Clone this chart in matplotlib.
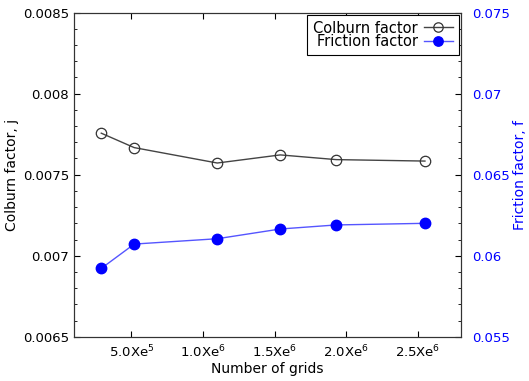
import matplotlib
matplotlib.use("Agg")
import matplotlib.pyplot as plt
from matplotlib.ticker import MultipleLocator, FixedLocator, FormatStrFormatter

# grid independence data
grids = [2.9e5, 5.2e5, 1.10e6, 1.54e6, 1.93e6, 2.55e6]
colburn = [0.007756, 0.007667, 0.007572, 0.007622, 0.007593, 0.007584]
friction = [0.05922, 0.06072, 0.06105, 0.06165, 0.0619, 0.0620]
xticks = [5e5, 1e6, 1.5e6, 2e6, 2.5e6]
xticklabels = [r"5.0Xe$^{5}$", r"1.0Xe$^{6}$", r"1.5Xe$^{6}$", r"2.0Xe$^{6}$", r"2.5Xe$^{6}$"]

plt.rcParams["font.family"] = ["DejaVu Sans"]
plt.rcParams["mathtext.fontset"] = "dejavusans"

fig = plt.figure(figsize=(5.29, 3.81), dpi=100)
ax = fig.add_axes([0.140, 0.116, 0.731, 0.851])
ax2 = ax.twinx()

l1, = ax.plot(grids, colburn, color="#444444", lw=1, marker="o", ms=7.5,
              mfc="none", mec="#333333", mew=0.9, label="Colburn factor")
l2, = ax2.plot(grids, friction, color="#5555ff", lw=1, marker="o", ms=7.5,
               mfc="blue", mec="blue", label="Friction factor")

ax.set_xlim(1e5, 2.8e6)
ax.set_ylim(0.0065, 0.0085)
ax2.set_ylim(0.055, 0.075)

ax.xaxis.set_major_locator(FixedLocator(xticks))
ax.set_xticklabels(xticklabels)
ax.yaxis.set_major_locator(MultipleLocator(0.0005))
ax.yaxis.set_minor_locator(MultipleLocator(0.0001))
ax2.yaxis.set_major_locator(MultipleLocator(0.005))
ax2.yaxis.set_minor_locator(MultipleLocator(0.001))
ax.yaxis.set_major_formatter(FormatStrFormatter("%g"))
ax2.yaxis.set_major_formatter(FormatStrFormatter("%g"))

ax.tick_params(axis="x", which="both", direction="in", top=True, labelsize=9.5, length=4, pad=5)
ax.tick_params(axis="y", which="major", direction="in", labelsize=9.5, length=4)
ax.tick_params(axis="y", which="minor", direction="in", length=2.5)
ax2.tick_params(axis="y", which="major", direction="in", labelsize=9.5, length=4,
                labelcolor="blue", pad=8)
ax2.tick_params(axis="y", which="minor", direction="in", length=2.5)

ax.set_xlabel("Number of grids", fontsize=10, labelpad=1)
ax.set_ylabel("Colburn factor, j", fontsize=10, labelpad=3)
ax2.set_ylabel("Friction factor, f", fontsize=10, color="blue", labelpad=2)

for a in (ax, ax2):
    for s in a.spines.values():
        s.set_color("#333333")

leg = ax2.legend([l1, l2], ["Colburn factor", "Friction factor"], loc="upper right",
                 markerfirst=False, fontsize=10.5, fancybox=False, framealpha=1,
                 edgecolor="black", labelspacing=-0.1, handlelength=2.0,
                 borderpad=0.4, handletextpad=0.4, borderaxespad=0.15,
                 markerscale=0.9, alignment="right")
leg.get_frame().set_linewidth(0.8)

fig.savefig("out.png", dpi=100)
